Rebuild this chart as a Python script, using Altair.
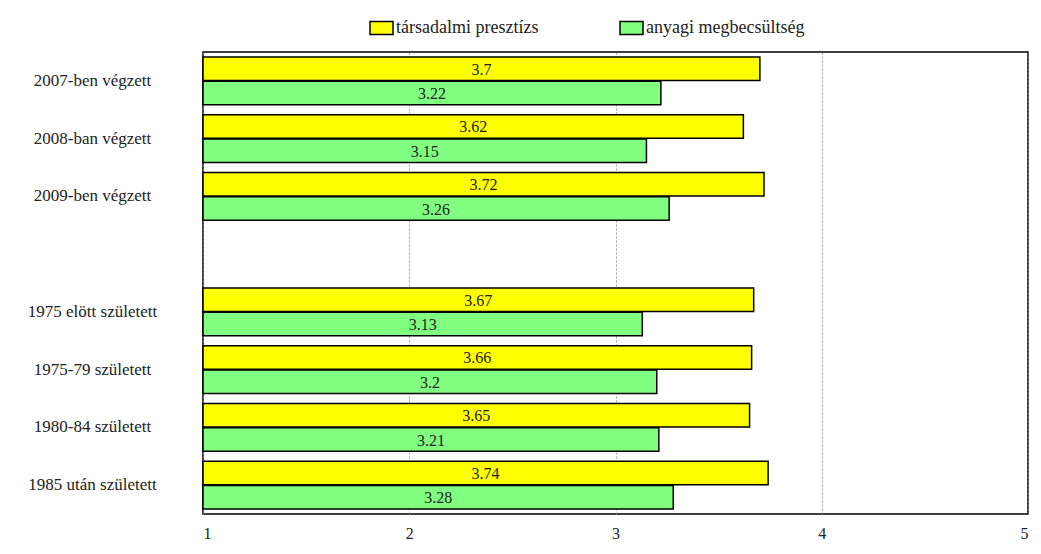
import altair as alt
import pandas as pd

categories = ["2007-ben végzett", "2008-ban végzett", "2009-ben végzett", " ",
              "1975 elött született", "1975-79 született", "1980-84 született", "1985 után született"]
groups = ["2007-ben végzett", "2008-ban végzett", "2009-ben végzett",
          "1975 elött született", "1975-79 született", "1980-84 született", "1985 után született"]
series = ["társadalmi presztízs", "anyagi megbecsültség"]
presztizs = [3.7, 3.62, 3.72, 3.67, 3.66, 3.65, 3.74]
megbecsules = [3.22, 3.15, 3.26, 3.13, 3.2, 3.21, 3.28]
x_ticks = [1, 2, 3, 4, 5]
colors = ["#FFFF00", "#80FF80"]

rows = []
for g, a, b in zip(groups, presztizs, megbecsules):
    rows.append({"cat": g, "series": series[0], "value": a})
    rows.append({"cat": g, "series": series[1], "value": b})
df = pd.DataFrame(rows)

FONT = "Liberation Serif"

y_enc = alt.Y("cat:N", sort=categories,
              scale=alt.Scale(domain=categories, paddingInner=0.17, paddingOuter=0.085),
              axis=alt.Axis(title=None, labelAlign="center", labelPadding=111, ticks=False,
                            domain=False, labelFont=FONT, labelFontSize=17, labelColor="#222"))
yoff = alt.YOffset("series:N", sort=series, scale=alt.Scale(domain=series, paddingInner=0.03))
x_scale = alt.Scale(domain=[1, 5], zero=False, nice=False)

base = alt.Chart(df).transform_calculate(base="1", mid="(1 + datum.value) / 2")

bars = base.mark_bar(stroke="black", strokeWidth=1.5).encode(
    x=alt.X("value:Q", scale=x_scale,
            axis=alt.Axis(title=None, values=x_ticks, grid=True, gridDash=[2, 2], gridColor="#888",
                          gridWidth=0.8, ticks=False, domain=False, labelPadding=11,
                          labelFont=FONT, labelFontSize=16, labelColor="#222", format="d")),
    x2="base:Q",
    y=y_enc,
    yOffset=yoff,
    color=alt.Color("series:N", sort=series,
                    scale=alt.Scale(domain=series, range=colors),
                    legend=alt.Legend(title=None, orient="none", legendX=166, legendY=-37,
                                      direction="horizontal",
                                      symbolType="M-1,-0.57L1,-0.57L1,0.57L-1,0.57Z",
                                      symbolSize=529, padding=0,
                                      symbolStrokeColor="black", symbolStrokeWidth=1.5,
                                      symbolOpacity=1, labelFont=FONT, labelFontSize=18,
                                      labelColor="#222", columnPadding=78, labelOffset=2,
                                      symbolOffset=0)),
)

labels = base.mark_text(font=FONT, fontSize=16, color="#222", baseline="middle", dy=1).encode(
    x=alt.X("mid:Q", scale=x_scale),
    y=alt.Y("cat:N", sort=categories),
    yOffset=yoff,
    text=alt.Text("value:Q"),
)

chart = alt.layer(bars, labels).properties(
    width=825, height=462,
    autosize=alt.AutoSizeParams(type="none"),
    padding={"left": 195, "top": 44, "right": 5, "bottom": 30},
).configure_view(stroke="black", strokeWidth=1.5)

chart.save("out.html", embed_options={"renderer": "svg", "actions": False})
